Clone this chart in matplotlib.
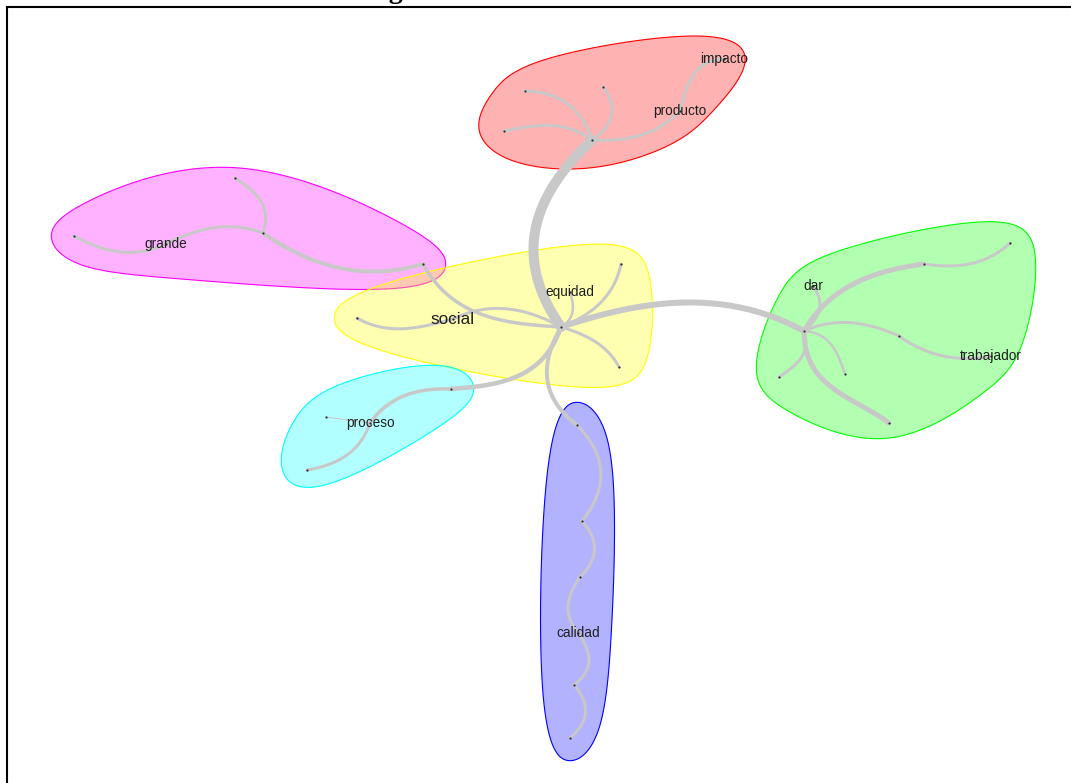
import numpy as np
import matplotlib
matplotlib.use("Agg")
import matplotlib.pyplot as plt
from matplotlib.patches import Polygon
from matplotlib.colors import to_rgba

# ---------------- data ----------------
node_names = ["r0", "r1", "r2", "r3", "producto", "impacto",
              "m0", "m1", "m2", "m3", "grande",
              "y0", "y1", "y2", "y3", "social", "equidad",
              "c0", "c1", "c2", "proceso",
              "b0", "b1", "b2", "calidad", "b3", "b4",
              "g0", "g1", "g2", "g3", "g4", "g5", "g6", "dar", "trabajador"]
node_x = [592, 525, 603, 504, 680, 724,
          423, 263, 235, 74, 166,
          561, 621, 619, 357, 453, 570,
          451, 326, 307, 370,
          577, 582, 580, 578, 574, 570,
          804, 924, 1010, 899, 779, 845, 889, 813, 991]
node_y = [140, 91, 87, 131, 111, 59,
          264, 233, 178, 236, 244,
          327, 264, 367, 318, 319, 292,
          389, 417, 470, 423,
          425, 521, 577, 633, 685, 738,
          331, 264, 243, 336, 377, 374, 423, 286, 356]
node_group = [0, 0, 0, 0, 0, 0,
              1, 1, 1, 1, 1,
              2, 2, 2, 2, 2, 2,
              3, 3, 3, 3,
              4, 4, 4, 4, 4, 4,
              5, 5, 5, 5, 5, 5, 5, 5, 5]
labelled = {"producto": 9.8, "impacto": 9.8, "grande": 9.8, "social": 12.3,
            "equidad": 9.8, "proceso": 9.8, "calidad": 9.8, "dar": 9.8,
            "trabajador": 9.8}

group_colors = ["#FF0000", "#FF00FF", "#FFFF00", "#00FFFF", "#0000FF", "#00FF00"]

edge_src = [0, 11, 11, 11, 11, 11, 14, 6, 11, 11,
            0, 0, 0, 0, 4,
            7, 7, 7, 10,
            17, 20, 20,
            21, 22, 23, 24, 25,
            27, 28, 27, 27, 30, 27, 27, 27]
edge_dst = [11, 27, 12, 13, 16, 15, 15, 11, 17, 21,
            1, 2, 3, 4, 5,
            6, 8, 10, 9,
            20, 19, 18,
            22, 23, 24, 25, 26,
            28, 29, 34, 30, 35, 32, 33, 31]
edge_weight = [10, 6, 3, 3, 2.5, 3, 3, 3.5, 4.5, 4,
               3, 3, 3, 3, 3,
               4, 3, 3, 3,
               3.5, 3, 1,
               3, 3, 3, 3, 3,
               5, 3, 3, 3, 3, 2.5, 5, 3]
edge_bend1 = [35, -22, 10, -6, 7, 12, 10, 21, -21, 19,
              13, 12, 10, 9, -10,
              17, 12, 10, -11,
              10, -11, 0,
              -19, -12, 9, -11, -12,
              -16, 9, 9, -10, 9, -10, 19, -10]
edge_bend2 = [38, -25, 11, -7, 6, 13, 8, 17, -17, 20,
              13, 13, 8, 10, -13,
              18, 10, 9, -10,
              11, -10, 0,
              -19, -12, 10, -12, -12,
              -14, 10, 10, -9, 9, -8, 12, -8]

title_text = "Figura 11. Análisis de similitud"

# ---------------- helpers ----------------
def bezier(p0, p3, d1, d2, n=80):
    p0 = np.asarray(p0, float)
    p3 = np.asarray(p3, float)
    v = p3 - p0
    L = np.hypot(*v)
    nv = np.array([-v[1], v[0]]) / L
    c1 = 3 * d1 - 1.5 * d2
    c2 = 3 * d2 - 1.5 * d1
    p1 = p0 + v / 3 + c1 * nv
    p2 = p0 + 2 * v / 3 + c2 * nv
    t = np.linspace(0, 1, n)[:, None]
    return ((1 - t) ** 3) * p0 + 3 * t * (1 - t) ** 2 * p1 + 3 * t ** 2 * (1 - t) * p2 + t ** 3 * p3


def convex_hull(pts):
    pts = sorted(set(map(tuple, pts)))
    def cross(o, a, b):
        return (a[0] - o[0]) * (b[1] - o[1]) - (a[1] - o[1]) * (b[0] - o[0])
    lower, upper = [], []
    for p in pts:
        while len(lower) >= 2 and cross(lower[-2], lower[-1], p) <= 0:
            lower.pop()
        lower.append(p)
    for p in reversed(pts):
        while len(upper) >= 2 and cross(upper[-2], upper[-1], p) <= 0:
            upper.pop()
        upper.append(p)
    return np.array(lower[:-1] + upper[:-1], float)


def closed_bspline(P, m=40):
    n = len(P)
    out = []
    t = np.linspace(0, 1, m, endpoint=False)
    b0 = (1 - t) ** 3 / 6
    b1 = (3 * t ** 3 - 6 * t ** 2 + 4) / 6
    b2 = (-3 * t ** 3 + 3 * t ** 2 + 3 * t + 1) / 6
    b3 = t ** 3 / 6
    for i in range(n):
        p0, p1, p2, p3 = P[i - 1], P[i], P[(i + 1) % n], P[(i + 2) % n]
        seg = (b0[:, None] * p0 + b1[:, None] * p1 + b2[:, None] * p2 + b3[:, None] * p3)
        out.append(seg)
    return np.vstack(out)


def group_shape(xs, ys, d=34):
    pts = []
    for x, y in zip(xs, ys):
        pts += [(x, y), (x - d, y), (x + d, y), (x, y - d), (x, y + d)]
    hull = convex_hull(pts)
    return closed_bspline(hull)

# ---------------- plot ----------------
W, H = 1071, 783
fig = plt.figure(figsize=(W / 100, H / 100), dpi=100)
ax = fig.add_axes([0, 0, 1, 1])
ax.set_xlim(0, W)
ax.set_ylim(H, 0)
ax.axis("off")

nx = np.array(node_x, float)
ny = np.array(node_y, float)
ng = np.array(node_group)

for g, col in enumerate(group_colors):
    sel = ng == g
    shape = group_shape(nx[sel], ny[sel])
    ax.add_patch(Polygon(shape, closed=True, facecolor=to_rgba(col, 0.3),
                         edgecolor=col, linewidth=0.8, zorder=1))

for s, t, w, d1, d2 in zip(edge_src, edge_dst, edge_weight, edge_bend1, edge_bend2):
    c = bezier((nx[s], ny[s]), (nx[t], ny[t]), d1, d2)
    ax.plot(c[:, 0], c[:, 1], color="#c8c8c8", lw=w * 0.72,
            solid_capstyle="round", solid_joinstyle="round", zorder=2)

ax.scatter(nx, ny, s=2.5, color="#2a2a2a", zorder=3, linewidths=0)

for name, x, y in zip(node_names, nx, ny):
    if name in labelled:
        ax.text(x, y, name, ha="center", va="center", fontsize=labelled[name],
                family="Liberation Sans", color="#1e1e1e", zorder=4)

# frame and (cropped) title
ax.plot([7, 7], [H + 10, 7], color="black", lw=1.5, solid_capstyle="butt", zorder=5, clip_on=False)
ax.plot([6.3, W + 10], [7, 7], color="black", lw=1.5, solid_capstyle="butt", zorder=5, clip_on=False)
ax.text(548, -2, title_text, ha="center", va="baseline", fontsize=20, fontweight="bold",
        family="Liberation Serif", color="black", clip_on=False)

fig.savefig("out.png", dpi=100)
